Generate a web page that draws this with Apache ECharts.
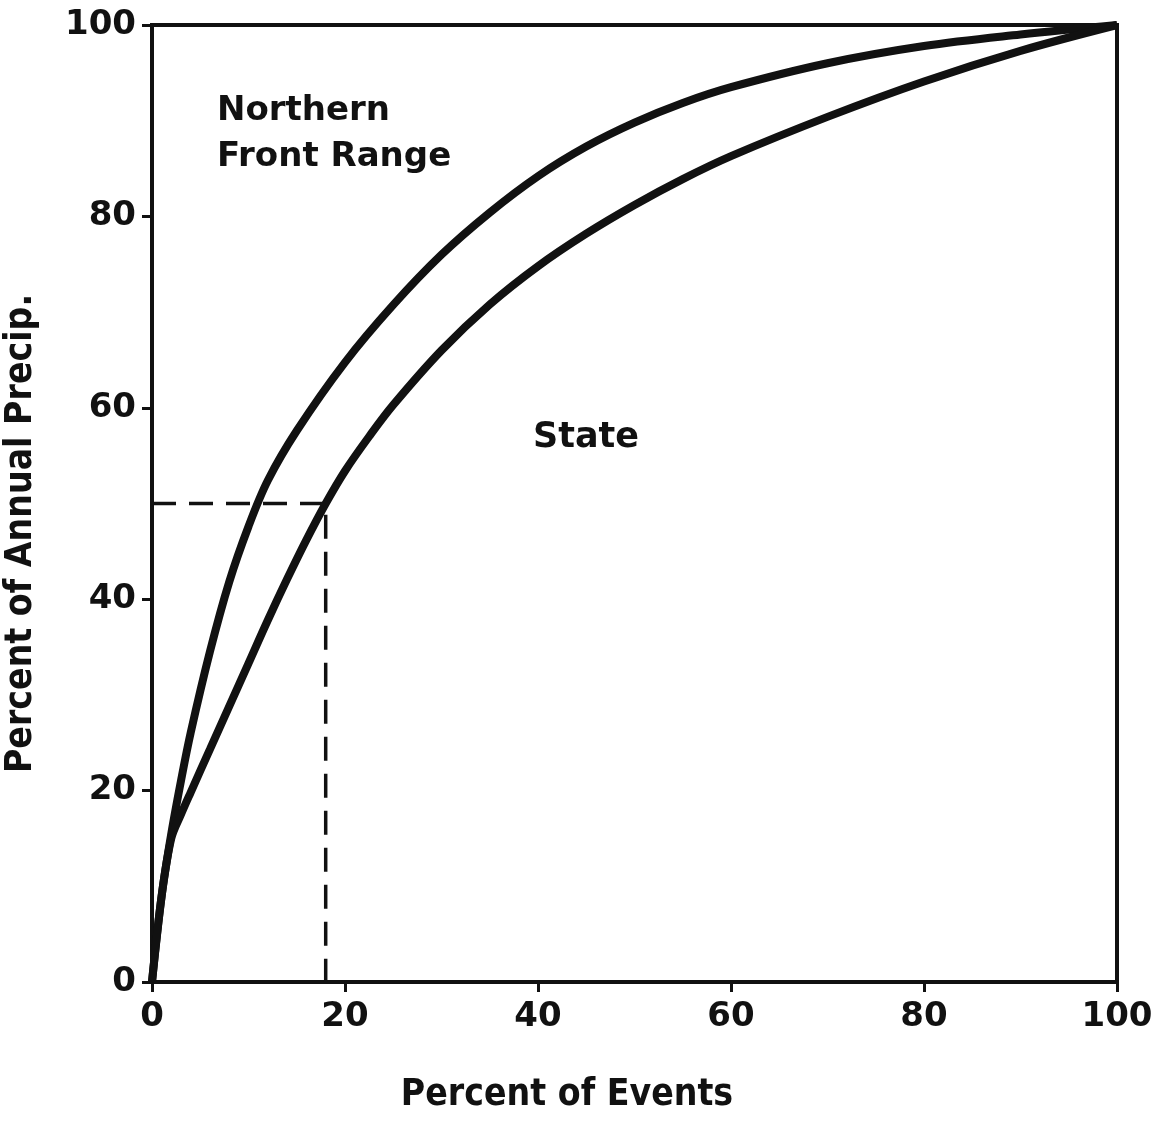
<!DOCTYPE html>
<html>
<head>
<meta charset="utf-8">
<script src="https://cdn.jsdelivr.net/npm/echarts@6/dist/echarts.min.js"></script>
<style>html,body{margin:0;padding:0;background:#fff}#c{width:1158px;height:1121px}</style>
</head>
<body>
<div id="c"></div>
<script>
// Percent of events (x) vs percent of annual precipitation (y)
const nfrX = [0, 1, 2, 3, 4, 6, 8, 10, 12, 15, 20, 25, 30, 35, 40, 45, 50, 55, 60, 70, 80, 90, 100];
const nfrY = [0, 9, 15.5, 21, 26, 34.5, 41.8, 47.6, 52.4, 57.6, 64.75, 70.75, 76, 80.4, 84.2, 87.3, 89.8, 91.85, 93.5, 96, 97.8, 99, 100];
const stateX = [0, 1, 2, 3, 4, 6, 8, 10, 12, 14, 16, 18, 20, 22.5, 25, 30, 35, 40, 45, 50, 55, 60, 70, 80, 90, 100];
const stateY = [0, 9, 15, 17.5, 19.8, 24.3, 28.8, 33.3, 37.8, 42.1, 46.2, 50, 53.4, 57, 60.3, 66, 70.8, 74.8, 78.2, 81.2, 83.9, 86.3, 90.4, 94.1, 97.3, 100];
const medianGuide = [[0,50],[18,50],[18,0]];
const rightTick = [[100,49],[101.4,49]];
const xTicks = [0,20,40,60,80,100];
const yTicks = [0,20,40,60,80,100];

const northernFrontRange = nfrX.map((x,i)=>[x,nfrY[i]]);
const state = stateX.map((x,i)=>[x,stateY[i]]);

const tickFont = {fontFamily:'DejaVu Sans', fontWeight:'bold', fontSize:34, color:'#111'};
const chart = echarts.init(document.getElementById('c'));
chart.setOption({
  animation:false,
  backgroundColor:'#fff',
  grid:{left:152,right:41,top:25,bottom:139,show:true,borderColor:'#111',borderWidth:4,outerBoundsMode:'none',containLabel:false},
  xAxis:{type:'value',min:xTicks[0],max:xTicks[xTicks.length-1],interval:20,
    axisLine:{lineStyle:{color:'#111',width:4}},
    axisTick:{show:true,length:10,lineStyle:{color:'#111',width:3}},
    splitLine:{show:false},
    axisLabel:{...tickFont,margin:18},
    name:'Percent of Events',nameLocation:'middle',nameGap:95,
    nameTextStyle:{fontFamily:'Liberation Sans Narrow, DejaVu Sans Condensed',fontWeight:'bold',fontSize:37,color:'#111',padding:[0,0,0,-135]}
  },
  yAxis:{type:'value',min:yTicks[0],max:yTicks[yTicks.length-1],interval:20,
    axisLine:{lineStyle:{color:'#111',width:4}},
    axisTick:{show:true,length:10,lineStyle:{color:'#111',width:3}},
    splitLine:{show:false},
    axisLabel:{...tickFont,margin:16},
    name:'Percent of Annual Precip.',nameLocation:'middle',nameGap:112,
    nameTextStyle:{fontFamily:'Liberation Sans Narrow, DejaVu Sans Condensed',fontWeight:'bold',fontSize:37,color:'#111',padding:[0,0,0,-60]}
  },
  series:[
    {type:'line',name:'Northern Front Range',data:northernFrontRange,smooth:0.35,showSymbol:false,lineStyle:{color:'#111',width:8}},
    {type:'line',name:'State',data:state,smooth:0.35,showSymbol:false,lineStyle:{color:'#111',width:8}},
    {type:'line',name:'guide',data:medianGuide,showSymbol:false,lineStyle:{color:'#111',width:3.5,type:[24,13]}},
    {type:'line',name:'tick',data:rightTick,showSymbol:false,clip:false,lineStyle:{color:'#111',width:2}}
  ],
  graphic:[
    {type:'text',left:217,top:88,style:{text:'Northern\nFront Range',fontFamily:'DejaVu Sans',fontWeight:'bold',fontSize:34,lineHeight:46,fill:'#111'}},
    {type:'text',left:533,top:420,style:{text:'State',fontFamily:'DejaVu Sans',fontWeight:'bold',fontSize:35,fill:'#111'}}
  ]
});
</script>
</body>
</html>
